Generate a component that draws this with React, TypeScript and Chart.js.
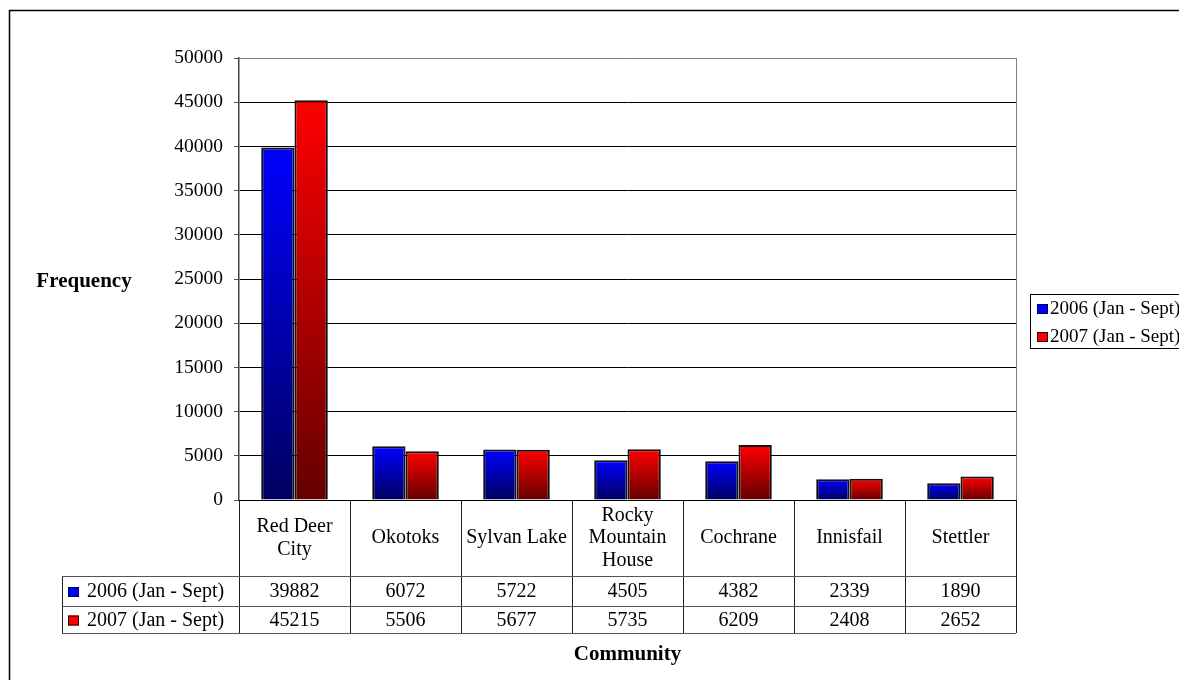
import React, { useEffect, useRef } from "react";
import { Chart, registerables } from "chart.js";

Chart.register(...registerables);

const categories = ["Red Deer City", "Okotoks", "Sylvan Lake", "Rocky Mountain House", "Cochrane", "Innisfail", "Stettler"];
const categoryLines = [["Red Deer", "City"], ["Okotoks"], ["Sylvan Lake"], ["Rocky", "Mountain", "House"], ["Cochrane"], ["Innisfail"], ["Stettler"]];
const seriesNames = ["2006 (Jan - Sept)", "2007 (Jan - Sept)"];
const values2006 = [39882, 6072, 5722, 4505, 4382, 2339, 1890];
const values2007 = [45215, 5506, 5677, 5735, 6209, 2408, 2652];
const yTicks = [0, 5000, 10000, 15000, 20000, 25000, 30000, 35000, 40000, 45000, 50000];

const FONT = "'Liberation Serif', 'Times New Roman', serif";
const topColors = ["#0000ff", "#ff0000"];
const bottomColors = ["#000060", "#640000"];

function gradientFor(idx: number) {
  return (ctx: any) => {
    const chart = ctx.chart;
    if (ctx.type !== "data" || !chart.chartArea) return topColors[idx];
    const y = chart.scales.y;
    const v = ctx.parsed ? ctx.parsed.y : ctx.raw;
    const top = y.getPixelForValue(v);
    const bot = y.getPixelForValue(0);
    if (!isFinite(top) || !isFinite(bot) || top === bot) return topColors[idx];
    const g = chart.ctx.createLinearGradient(0, top, 0, bot);
    g.addColorStop(0, topColors[idx]);
    g.addColorStop(1, bottomColors[idx]);
    return g;
  };
}

const decorPlugin = {
  id: "decor",
  afterDraw(chart: any) {
    const c = chart.ctx;
    const area = chart.chartArea;
    const xs = chart.scales.x;
    const n = categories.length;
    const step = (area.right - area.left) / n;
    const boundary = (i: number) => (i < n ? xs.getPixelForValue(i) - step / 2 : xs.getPixelForValue(n - 1) + step / 2);

    c.save();
    // outer chart border (left & top visible)
    c.strokeStyle = "#000";
    c.lineWidth = 1.5;
    c.beginPath();
    c.moveTo(9.5, 690);
    c.lineTo(9.5, 10.5);
    c.lineTo(1190, 10.5);
    c.stroke();

    // plot area right border
    c.strokeStyle = "#808080";
    c.lineWidth = 1;
    c.beginPath();
    c.moveTo(Math.round(area.right) + 0.5, area.top);
    c.lineTo(Math.round(area.right) + 0.5, area.bottom);
    c.stroke();

    // data table
    const rowTop = area.bottom;
    const r1 = rowTop + 76;
    const r2 = r1 + 30;
    const r3 = r2 + 27;
    const legendLeft = 62;
    c.strokeStyle = "#222";
    c.lineWidth = 1;
    c.beginPath();
    for (let i = 0; i <= n; i++) {
      const x = Math.round(boundary(i)) + 0.5;
      c.moveTo(x, rowTop);
      c.lineTo(x, r3);
    }
    c.moveTo(legendLeft + 0.5, r1);
    c.lineTo(legendLeft + 0.5, r3);
    c.stroke();
    c.strokeStyle = "#555";
    c.beginPath();
    for (const yy of [r1, r2, r3]) {
      c.moveTo(legendLeft, Math.round(yy) + 0.5);
      c.lineTo(boundary(n), Math.round(yy) + 0.5);
    }
    c.stroke();
    c.strokeStyle = "#000";
    c.beginPath();
    c.moveTo(area.left, Math.round(rowTop) + 0.5);
    c.lineTo(area.right, Math.round(rowTop) + 0.5);
    c.stroke();

    c.fillStyle = "#000";
    c.font = `20px ${FONT}`;
    c.textAlign = "center";
    c.textBaseline = "middle";
    const headMid = (rowTop + r1) / 2;
    categoryLines.forEach((lines, i) => {
      const cx = xs.getPixelForValue(i);
      const lh = 22.5;
      lines.forEach((t, k) => {
        c.fillText(t, cx, headMid + (k - (lines.length - 1) / 2) * lh);
      });
    });
    const rows = [values2006, values2007];
    const rowMids = [(r1 + r2) / 2 + 1, (r2 + r3) / 2 + 1];
    rows.forEach((vals, ri) => {
      vals.forEach((v, i) => {
        c.fillText(String(v), xs.getPixelForValue(i), rowMids[ri]);
      });
    });
    // legend keys in table
    c.textAlign = "left";
    seriesNames.forEach((name, ri) => {
      const y = rowMids[ri];
      c.fillStyle = topColors[ri];
      c.fillRect(68, y - 5, 11, 10);
      c.strokeStyle = ri === 0 ? "#000050" : "#300000";
      c.lineWidth = 1;
      c.strokeRect(68.5, y - 4.5, 10, 9);
      c.fillStyle = "#000";
      c.fillText(name, 87, y);
    });

    // right legend
    c.strokeStyle = "#000";
    c.lineWidth = 1;
    c.strokeRect(1030.5, 294.5, 200, 54);
    seriesNames.forEach((name, ri) => {
      const y = 309 + ri * 28;
      c.fillStyle = topColors[ri];
      c.fillRect(1037, y - 5, 11, 10);
      c.strokeStyle = ri === 0 ? "#000050" : "#300000";
      c.strokeRect(1037.5, y - 4.5, 10, 9);
      c.fillStyle = "#000";
      c.font = `19px ${FONT}`;
      c.fillText(name, 1050, y);
    });

    // axis titles
    c.fillStyle = "#000";
    c.font = `bold 21px ${FONT}`;
    c.textAlign = "center";
    c.fillText("Frequency", 84, 282);
    c.fillText("Community", (area.left + area.right) / 2, 655);
    c.restore();
  },
};

export default function App() {
  const ref = useRef<HTMLCanvasElement>(null);
  useEffect(() => {
    if (!ref.current) return;
    const chart = new Chart(ref.current, {
      type: "bar",
      data: {
        labels: categories,
        datasets: [
          {
            label: seriesNames[0],
            data: values2006,
            backgroundColor: gradientFor(0) as any,
            borderColor: "#111",
            borderWidth: 2,
            categoryPercentage: 0.6,
            barPercentage: 1.0,
          },
          {
            label: seriesNames[1],
            data: values2007,
            backgroundColor: gradientFor(1) as any,
            borderColor: "#111",
            borderWidth: 2,
            categoryPercentage: 0.6,
            barPercentage: 1.0,
          },
        ],
      },
      options: {
        responsive: false,
        animation: false,
        devicePixelRatio: 1,
        layout: { padding: { left: 0, right: 163, top: 58, bottom: 180 } },
        plugins: { legend: { display: false }, tooltip: { enabled: false }, title: { display: false } },
        scales: {
          x: { display: false },
          y: {
            min: 0,
            max: 50000,
            afterFit: (s: any) => {
              s.width = 239;
            },
            afterBuildTicks: (s: any) => {
              s.ticks = yTicks.map((v) => ({ value: v }));
            },
            ticks: {
              color: "#000",
              padding: 11,
              font: { family: FONT, size: 19.5 },
              callback: (v: any) => String(v),
            },
            grid: {
              color: (ctx: any) => (ctx.tick && ctx.tick.value === 50000 ? "#808080" : ctx.tick && ctx.tick.value === 0 ? "rgba(0,0,0,0)" : "#000"),
              lineWidth: 1,
              drawTicks: true,
              tickLength: 5,
              tickColor: "#555",
            },
            border: { display: true, color: "#444", width: 1.5 },
          },
        },
      },
      plugins: [decorPlugin],
    });
    return () => chart.destroy();
  }, []);
  return (
    <div style={{ position: "fixed", left: 0, top: 0, width: 1179, height: 680, background: "#fff" }}>
      <canvas ref={ref} width={1179} height={680} style={{ display: "block" }} />
    </div>
  );
}
